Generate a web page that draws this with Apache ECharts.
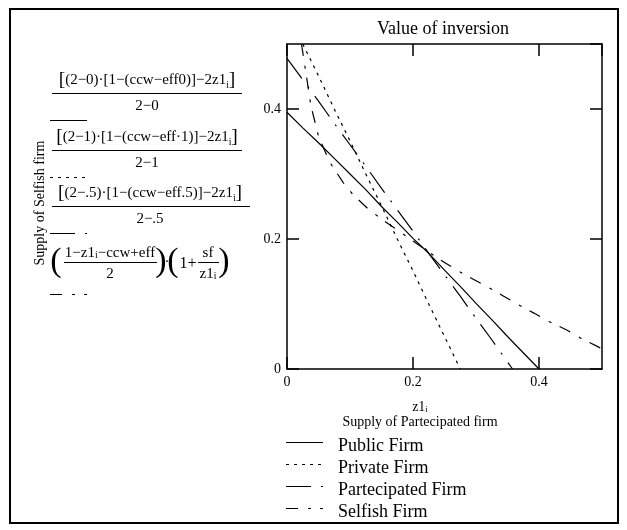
<!DOCTYPE html>
<html>
<head>
<meta charset="utf-8">
<script src="https://cdn.jsdelivr.net/npm/echarts@6/dist/echarts.min.js"></script>
<style>
html, body { margin: 0; padding: 0; background: #fff; }
#chart { width: 627px; height: 530px; }
</style>
</head>
<body>
<div id="chart"></div>
<script>
// values: [z1, supply]
var publicFirm = [[0, 0.395], [0.025, 0.371], [0.05, 0.348], [0.075, 0.324], [0.1, 0.300],
  [0.125, 0.276], [0.15, 0.250], [0.175, 0.226], [0.2, 0.201], [0.225, 0.178], [0.25, 0.152],
  [0.275, 0.127], [0.3, 0.101], [0.325, 0.076], [0.35, 0.050], [0.375, 0.025], [0.4, 0]]
var privateFirm = [[0.025, 0.5], [0.05, 0.451], [0.075, 0.400], [0.1, 0.351], [0.125, 0.300],
  [0.15, 0.251], [0.175, 0.200], [0.2, 0.151], [0.225, 0.100], [0.25, 0.050], [0.275, 0]]
var partFirm = [[0, 0.478], [0.025, 0.445], [0.05, 0.412], [0.075, 0.378], [0.1, 0.345],
  [0.125, 0.312], [0.15, 0.278], [0.175, 0.245], [0.2, 0.212], [0.225, 0.178], [0.25, 0.145],
  [0.275, 0.112], [0.3, 0.078], [0.325, 0.045], [0.358, 0]]
var selfishFirm = [[0.023, 0.5], [0.029, 0.462], [0.038, 0.405], [0.05, 0.358], [0.068, 0.318],
  [0.089, 0.287], [0.105, 0.268], [0.129, 0.246], [0.154, 0.228], [0.2, 0.197], [0.24, 0.170],
  [0.268, 0.153], [0.292, 0.140], [0.319, 0.126], [0.344, 0.112], [0.367, 0.099], [0.392, 0.086],
  [0.416, 0.073], [0.444, 0.060], [0.467, 0.047], [0.494, 0.034], [0.5, 0.031]]
var seriesNames = ['Public Firm', 'Private Firm', 'Partecipated Firm', 'Selfish Firm']
var dashes = ['solid', [3, 5], [25, 10, 2, 10], [12, 10, 3, 9]]

var serif = 'Liberation Serif'
var chart = echarts.init(document.getElementById('chart'))

function txt(x, y, text, size, extra) {
  var el = {
    type: 'text', x: x, y: y, silent: true,
    style: {
      text: text, fontFamily: serif, fontSize: size, fill: '#000',
      align: 'center', verticalAlign: 'middle',
      rich: {
        s: { fontFamily: serif, fontSize: size * 0.65, verticalAlign: 'bottom' },
        b: { fontFamily: serif, fontSize: size * 1.3 }
      }
    }
  }
  if (extra) Object.assign(el, extra)
  return el
}
function bar(x1, x2, y) {
  return { type: 'line', silent: true, shape: { x1: x1, y1: y + 0.5, x2: x2, y2: y + 0.5 }, style: { stroke: '#000', lineWidth: 1 } }
}
function sample(x1, x2, y, i) {
  var d = dashes[i]
  return {
    type: 'line', silent: true, shape: { x1: x1, y1: y + 0.5, x2: x2, y2: y + 0.5 },
    style: { stroke: '#000', lineWidth: 1, lineDash: d === 'solid' ? null : d }
  }
}
function bigParen(x, y, ch) {
  return {
    type: 'text', x: x, y: y, silent: true,
    style: { text: ch, fontFamily: serif, fontSize: 34, fill: '#000', align: 'center', verticalAlign: 'middle' }
  }
}

var fs = 15
var graphics = [
  { type: 'rect', silent: true, shape: { x: 10, y: 9, width: 608, height: 514 }, style: { fill: null, stroke: '#000', lineWidth: 2 } },
  txt(443, 29, 'Value of inversion', 18),
  txt(40, 203, 'Supply of Selfish firm', 14, { rotation: Math.PI / 2 }),
  // formula 1
  txt(147, 80, '{b|[}(2−0)·[1−(ccw−eff0)]−2z1{s|i}{b|]}', fs),
  bar(52, 242, 93),
  txt(147, 106, '2−0', fs),
  sample(50, 87, 120, 0),
  // formula 2
  txt(147, 137, '{b|[}(2−1)·[1−(ccw−eff·1)]−2z1{s|i}{b|]}', fs),
  bar(52, 242, 150),
  txt(147, 163, '2−1', fs),
  sample(50, 87, 177, 1),
  // formula 3
  txt(150, 193, '{b|[}(2−.5)·[1−(ccw−eff.5)]−2z1{s|i}{b|]}', fs),
  bar(52, 250, 206),
  txt(150, 219, '2−.5', fs),
  sample(50, 87, 233, 2),
  // formula 4
  bigParen(56, 262, '('),
  txt(110, 253, '1−z1{s|i}−ccw+eff', fs),
  bar(64, 157, 262),
  txt(110, 274, '2', fs),
  bigParen(161, 262, ')'),
  txt(167, 262, '·', fs),
  bigParen(173, 262, '('),
  txt(188, 264, '1+', 16),
  txt(208, 253, 'sf', fs),
  bar(198, 219, 262),
  txt(208, 274, 'z1{s|i}', fs),
  bigParen(224, 262, ')'),
  sample(50, 87, 294, 3),
  // x axis title
  txt(420, 407, 'z1{s|i}', 14),
  txt(420, 422, 'Supply of Partecipated firm', 14)
]
// legend drawn below the plot
var legendY = [442, 464, 486, 508]
seriesNames.forEach(function (n, i) {
  graphics.push(sample(286, 323, legendY[i], i))
  graphics.push({
    type: 'text', silent: true, x: 338, y: legendY[i] + 4,
    style: { text: n, fontFamily: serif, fontSize: 18, fill: '#000', align: 'left', verticalAlign: 'middle' }
  })
})

var axisCommon = {
  type: 'value', min: 0, max: 0.5, interval: 0.2,
  axisLine: { show: true, onZero: false, lineStyle: { color: '#000', width: 1.5 } },
  axisTick: { show: true, inside: true, length: 12, lineStyle: { color: '#000', width: 1.5 } },
  splitLine: { show: false }
}
function axis(pos, labels) {
  return Object.assign({}, axisCommon, {
    position: pos,
    axisLabel: labels ? { show: true, color: '#000', fontFamily: serif, fontSize: 14, margin: 6, showMaxLabel: false,
      formatter: function (v) { return String(v) } } : { show: false }
  })
}

var option = {
  animation: false,
  grid: { left: 287, right: 25, top: 44, bottom: 161 },
  xAxis: [axis('bottom', true), axis('top', false)],
  yAxis: [axis('left', true), axis('right', false)],
  graphic: graphics,
  series: [publicFirm, privateFirm, partFirm, selfishFirm].map(function (d, i) {
    return {
      name: seriesNames[i], type: 'line', data: d,
      xAxisIndex: 0, yAxisIndex: 0,
      showSymbol: false, symbol: 'none', silent: true,
      lineStyle: { color: '#000', width: 1.2, type: dashes[i] }
    }
  })
}
chart.setOption(option)
</script>
</body>
</html>
